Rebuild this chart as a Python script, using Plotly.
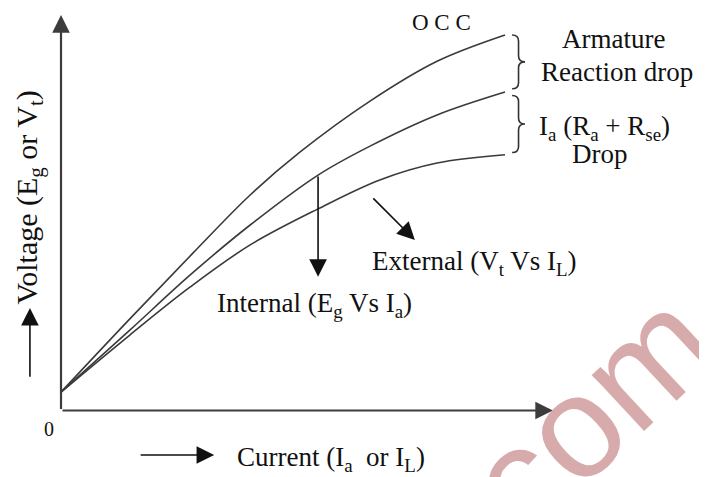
import plotly.graph_objects as go

# ---- data (arbitrary units) ----
occ_x = [0, 15.5, 29.7, 42.6, 53.8, 69.6, 84.7, 100]
occ_y = [4.9, 24.4, 41.9, 57.4, 68.8, 82.4, 93.0, 100]

int_x = [0, 15.5, 29.1, 42.6, 57.9, 69.6, 84.7, 100]
int_y = [4.9, 21.4, 36.1, 49.4, 62.7, 70.4, 78.7, 84.8]

ext_x = [0, 15.5, 29.1, 42.6, 57.9, 71.8, 84.7, 100]
ext_y = [4.9, 20.1, 32.9, 44.1, 53.7, 61.4, 65.9, 68.1]

# page has an 8px body margin; ranges compensate for that
X_RANGE = [-11.94, 145.5]
Y_RANGE = [-17.71, 107.19]

FONT = "Liberation Serif, Times New Roman, serif"
INK = "#111111"
LINE = "#3a3a3a"

fig = go.Figure()
for xs, ys in [(occ_x, occ_y), (int_x, int_y), (ext_x, ext_y)]:
    fig.add_trace(go.Scatter(x=xs, y=ys, mode="lines",
                             line=dict(color=LINE, width=1.6, shape="spline", smoothing=1.0),
                             hoverinfo="skip"))


def brace(x0, w, ytop, ybot):
    xm = x0 + w / 2
    x1 = x0 + w
    ymid = (ytop + ybot) / 2
    d = 1.6
    return (f"M {x0},{ytop} Q {xm},{ytop} {xm},{ytop - d} "
            f"L {xm},{ymid + d} Q {xm},{ymid} {x1},{ymid} "
            f"Q {xm},{ymid} {xm},{ymid - d} "
            f"L {xm},{ybot + d} Q {xm},{ybot} {x0},{ybot}")


gap = 0.9
fig.add_shape(type="path", xref="x", yref="y",
              path=brace(101.6, 2.9, occ_y[-1], int_y[-1] + gap),
              line=dict(color="#333333", width=1.6))
fig.add_shape(type="path", xref="x", yref="y",
              path=brace(101.6, 2.9, int_y[-1] - gap, ext_y[-1] + 0.6),
              line=dict(color="#333333", width=1.6))


def arrow(x0, y0, x1, y1, width=1.6, color="#111111", size=2.2):
    fig.add_annotation(x=x1, y=y1, ax=x0, ay=y0, xref="x", yref="y",
                       axref="x", ayref="y", text="", showarrow=True,
                       arrowhead=2, arrowsize=size, arrowwidth=width,
                       arrowcolor=color)


# axes with arrowheads
arrow(0, 0, 0, 105.3, width=2.2, color="#3c3c3c", size=1.6)
arrow(0, 0, 110.8, 0, width=2.2, color="#3c3c3c", size=1.6)
# pointer arrows
arrow(57.9, 62.7, 57.9, 35.6)
arrow(70.0, 56.9, 79.7, 45.4)
# label arrows
arrow(-7.0, 8.6, -7.0, 27.3)
arrow(17.6, -11.85, 34.5, -11.85)


def text(x, y, s, size=27, angle=0, color=INK, family=FONT):
    fig.add_annotation(x=x, y=y, xref="x", yref="y", text=s, showarrow=False,
                       textangle=angle, xanchor="center", yanchor="middle",
                       font=dict(family=family, size=size, color=color))


text(85.6, 103.4, "O C C", size=23)
text(124.5, 98.9, "Armature")
text(125.2, 90.2, "Reaction drop")
text(122.3, 75.3, "I<sub>a</sub> (R<sub>a</sub> + R<sub>se</sub>)")
text(121.4, 68.4, "Drop")
text(93.2, 39.3, "External (V<sub>t</sub> Vs I<sub>L</sub>)")
text(57.0, 28.2, "Internal (E<sub>g</sub> Vs I<sub>a</sub>)")
text(60.8, -12.8, "Current (I<sub>a</sub>  or I<sub>L</sub>)")
text(-2.6, -4.8, "0", size=20)
text(-7.3, 56.6, "Voltage (E<sub>g</sub> or V<sub>t</sub>)", size=30, angle=-90)

# watermark
text(116.0, -4.1, ".com", size=145, angle=-43, color="rgba(205,150,150,0.8)",
     family="Liberation Sans, Arial, sans-serif")

fig.update_layout(
    width=699, height=469,
    margin=dict(l=0, r=0, t=0, b=0),
    paper_bgcolor="white", plot_bgcolor="white",
    showlegend=False,
    xaxis=dict(range=X_RANGE, visible=False, fixedrange=True),
    yaxis=dict(range=Y_RANGE, visible=False, fixedrange=True),
)

fig.write_html("out.html")
